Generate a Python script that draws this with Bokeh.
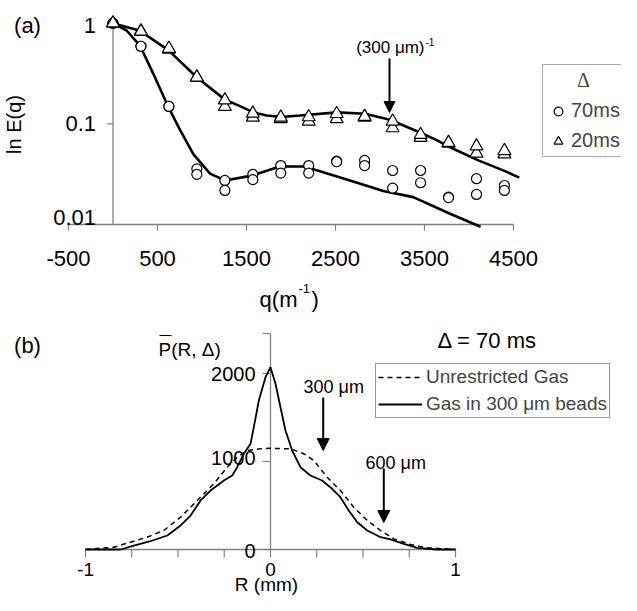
import math
from bokeh.plotting import figure
from bokeh.layouts import column
from bokeh.models import Range1d, Arrow, NormalHead, Legend, LegendItem
from bokeh.core.properties import value
from bokeh.embed import file_html
from bokeh.resources import INLINE

# ---------------- data ----------------
# (a) echo attenuation E(q), two repeated measurements per delay
q_meas = [0, 314, 628, 942, 1257, 1571, 1885, 2199, 2513, 2827, 3142, 3456, 3770, 4084, 4398]
E_70ms_run1 = [1.0, 0.59, 0.149, 0.0357, 0.0274, 0.0315, 0.0385, 0.0385, 0.0426, 0.0433, 0.0344, 0.0344, 0.0187, 0.0285, 0.0244]
E_70ms_run2 = [1.0, 0.59, 0.149, 0.0315, 0.0218, 0.0279, 0.0324, 0.0324, 0.0420, 0.0385, 0.0230, 0.0260, 0.0185, 0.0199, 0.0218]
E_20ms_run1 = [1.0, 0.83, 0.56, 0.29, 0.172, 0.127, 0.116, 0.117, 0.126, 0.118, 0.106, 0.078, 0.065, 0.060, 0.054]
E_20ms_run2 = [1.0, 0.83, 0.55, 0.29, 0.148, 0.116, 0.112, 0.106, 0.112, 0.116, 0.091, 0.073, 0.064, 0.051, 0.050]

# fitted curves
fit_70ms_q = [0, 153, 303, 453, 622, 753, 903, 1090, 1258, 1558, 1876, 2176, 2288, 2663, 3037, 3374, 3787, 4130]
fit_70ms_E = [1.0, 0.846, 0.60, 0.314, 0.147, 0.087, 0.050, 0.032, 0.0274, 0.0306, 0.0377, 0.0377, 0.0345, 0.0274, 0.0215, 0.0187, 0.0128, 0.0095]
fit_20ms_q = [0, 303, 622, 940, 1258, 1427, 1577, 1727, 1895, 2101, 2517, 2831, 3112, 3450, 3637, 3787, 4105, 4404, 4565]
fit_20ms_E = [1.0, 0.84, 0.54, 0.29, 0.174, 0.15, 0.13, 0.121, 0.117, 0.121, 0.13, 0.126, 0.110, 0.082, 0.069, 0.0585, 0.0434, 0.0339, 0.0292]

top_xticks = [-500, 500, 1500, 2500, 3500, 4500]
top_xtick_labels = ["-500", "500", "1500", "2500", "3500", "4500"]
top_yticks = [0.01, 0.1, 1]
top_ytick_labels = ["0.01", "0.1", "1"]

# (b) displacement propagators
R_beads = [-1.0, -0.81, -0.739, -0.649, -0.558, -0.486, -0.432, -0.378, -0.324, -0.252, -0.207, -0.18,
           -0.144, -0.108, -0.09, -0.063, -0.027, 0.0,
           0.027, 0.054, 0.081, 0.117, 0.162, 0.216, 0.279, 0.333, 0.378, 0.423, 0.469, 0.523,
           0.595, 0.649, 0.72, 0.793, 0.9, 1.0]
P_beads = [0, 0, 45, 94, 159, 273, 386, 557, 670, 784, 841, 935,
           1088, 1201, 1390, 1693, 1958, 2072,
           1883, 1617, 1352, 1125, 935, 841, 784, 690, 594, 443, 310, 216,
           140, 114, 65, 19, 0, 0]
R_free = [-1.0, -0.847, -0.757, -0.667, -0.577, -0.486, -0.396, -0.306, -0.234, -0.18, -0.126, -0.054, 0.0,
          0.108, 0.18, 0.234, 0.306, 0.378, 0.45, 0.523, 0.595, 0.667, 0.757, 0.847, 1.0]
P_free = [0, 26, 83, 140, 216, 367, 557, 747, 935, 1049, 1125, 1144, 1150,
          1144, 1088, 1011, 822, 670, 481, 330, 216, 121, 57, 19, 0]

bot_xticks = [-1, -0.75, -0.5, -0.25, 0, 0.25, 0.5, 0.75, 1]
bot_xtick_labels = ["-1", "", "", "", "0", "", "", "", "1"]
bot_yticks = [0, 1000, 2000]
bot_ytick_labels = ["0", "1000", "2000"]

# ---------------- geometry ----------------
W, H1, H2 = 621, 322, 273
DX, DY1, DY2 = 0, 0, 322
FONT = "Liberation Sans"
GRAY = "#808080"


def axis_map(v1, p1, v2, p2, length, flip):
    s = (p2 - p1) / (v2 - v1)
    if not flip:
        lo = v1 - p1 / s
        return lo, lo + length / s, s
    s = -s
    hi = v1 + p1 / s
    return hi - length / s, hi, s


tx0, tx1, tsx = axis_map(-500, 68 - DX, 4500, 513 - DX, W, False)
ty0, ty1, tsy = axis_map(-2, 224 - DY1, 0, 22.7 - DY1, H1, True)
bx0, bx1, bsx = axis_map(-1, 85 - DX, 1, 455 - DX, W, False)
by0, by1, bsy = axis_map(0, 549 - DY2, 2000, 373 - DY2, H2, True)


def top_x(rx):
    return tx0 + (rx - DX) / tsx


def top_y(ry):
    return 10 ** (ty1 - (ry - DY1) / tsy)


def bot_x(rx):
    return bx0 + (rx - DX) / bsx


def bot_y(ry):
    return by1 - (ry - DY2) / bsy


def base_fig(h, xr, yr, ylog=False):
    p = figure(width=W, height=h, x_range=Range1d(*xr), y_range=Range1d(*yr),
               y_axis_type="log" if ylog else "linear",
               x_axis_location=None, y_axis_location=None,
               toolbar_location=None, output_backend="svg", min_border=0, title=None)
    p.grid.visible = False
    p.outline_line_color = None
    p.background_fill_color = "white"
    p.border_fill_color = "white"
    return p


# ---------------- panel (a) ----------------
p1 = base_fig(H1, (tx0, tx1), (10 ** ty0, 10 ** ty1), ylog=True)
ymin, ymax = min(top_yticks), max(top_yticks)
p1.segment(x0=[0, min(top_xticks)], y0=[ymin, ymin], x1=[0, max(top_xticks)], y1=[ymax, ymin],
           line_color=GRAY, line_width=1.3)
n = len(top_xticks)
p1.segment(x0=top_xticks, y0=[ymin] * n, x1=top_xticks, y1=[ymin * 10 ** (-6 / tsy)] * n,
           line_color=GRAY, line_width=1.2)
m = len(top_yticks)
p1.segment(x0=[0] * m, y0=top_yticks, x1=[-6 / tsx] * m, y1=top_yticks, line_color=GRAY, line_width=1.2)
p1.text(x=top_xticks, y=[ymin] * n, text=top_xtick_labels, text_align="center", text_baseline="middle",
        y_offset=34, text_font=value(FONT), text_font_size="22px", text_color="black")
p1.text(x=[0] * m, y=top_yticks, text=top_ytick_labels, text_align="right", text_baseline="middle",
        x_offset=-17, y_offset=[-7, 0, 2], text_font=value(FONT), text_font_size="22px", text_color="black")

p1.line(fit_70ms_q, fit_70ms_E, line_color="black", line_width=2.6)
p1.line(fit_20ms_q, fit_20ms_E, line_color="black", line_width=2.6)
c1 = p1.scatter(q_meas, E_70ms_run1, marker="circle", size=10, fill_color="white", line_color="black", line_width=1.2)
p1.scatter(q_meas, E_70ms_run2, marker="circle", size=10, fill_color="white", line_color="black", line_width=1.2)
t2 = p1.scatter(q_meas, E_20ms_run2, marker="triangle", size=13, fill_color="white", line_color="black", line_width=1.2)
t1 = p1.scatter(q_meas, E_20ms_run1, marker="triangle", size=13, fill_color="white", line_color="black", line_width=1.2)

p1.add_layout(Arrow(end=NormalHead(size=11, fill_color="black", line_color="black"),
                    x_start=top_x(389), y_start=top_y(58), x_end=top_x(389), y_end=top_y(112),
                    line_color="black", line_width=2))
p1.text(x=[top_x(424)], y=[top_y(47)], text=["(300 μm)"], text_align="right", text_baseline="middle",
        text_font=value(FONT), text_font_size="17px", text_color="black")
p1.text(x=[top_x(425)], y=[top_y(41)], text=["-1"], text_align="left", text_baseline="middle",
        text_font=value(FONT), text_font_size="10px", text_color="black")
p1.text(x=[top_x(13)], y=[top_y(124)], text=["ln E(q)"], angle=math.pi / 2, text_align="center",
        text_baseline="middle", text_font=value(FONT), text_font_size="20px", text_color="black")
p1.text(x=[top_x(27)], y=[top_y(25)], text=["(a)"], text_align="center", text_baseline="middle",
        text_font=value(FONT), text_font_size="22px", text_color="black")
p1.text(x=[top_x(297)], y=[top_y(299)], text=["q(m"], text_align="right", text_baseline="middle",
        text_font=value(FONT), text_font_size="22px", text_color="black")
p1.text(x=[top_x(298)], y=[top_y(288)], text=["-1"], text_align="left", text_baseline="middle",
        text_font=value(FONT), text_font_size="13px", text_color="black")
p1.text(x=[top_x(311)], y=[top_y(299)], text=[")"], text_align="left", text_baseline="middle",
        text_font=value(FONT), text_font_size="22px", text_color="black")

leg1 = Legend(items=[LegendItem(label="70ms", renderers=[c1]), LegendItem(label="20ms", renderers=[t1])],
              location=(542 - DX, H1 - (157.3 - DY1)), title="\u00a0" * 6 + "Δ",
              title_text_font="Liberation Serif", title_text_font_size="20px", title_text_font_style="normal",
              label_text_font=FONT, label_text_font_size="20px",
              border_line_color="#555555", border_line_width=1, background_fill_color="white",
              background_fill_alpha=1, padding=4, spacing=7, glyph_width=22, glyph_height=22,
              label_standoff=2, title_standoff=7, margin=0)
p1.add_layout(leg1)

# ---------------- panel (b) ----------------
p2 = base_fig(H2, (bx0, bx1), (by0, by1))
ytop = bot_y(333)
p2.segment(x0=[min(bot_xticks), 0], y0=[0, 0], x1=[max(bot_xticks), 0], y1=[0, ytop],
           line_color=GRAY, line_width=1.3)
k = len(bot_xticks)
p2.segment(x0=bot_xticks, y0=[0] * k, x1=bot_xticks, y1=[-8 / bsy] * k, line_color=GRAY, line_width=1.2)
yt_all = bot_yticks + [ytop]
p2.segment(x0=[0] * len(yt_all), y0=yt_all, x1=[-8 / bsx] * len(yt_all), y1=yt_all,
           line_color=GRAY, line_width=1.2)
p2.text(x=bot_xticks, y=[0] * k, text=bot_xtick_labels, text_align="center", text_baseline="middle",
        y_offset=20, text_font=value(FONT), text_font_size="19px", text_color="black")
p2.text(x=[0] * len(bot_yticks), y=bot_yticks, text=bot_ytick_labels, text_align="right",
        text_baseline="middle", x_offset=-15, y_offset=[1, -4, 0], text_font=value(FONT),
        text_font_size="20px", text_color="black")

lf = p2.line(R_free, P_free, line_color="black", line_width=1.5, line_dash="5 4")
lb = p2.line(R_beads, P_beads, line_color="black", line_width=1.8)

for ax, ys, ye in [(322.7, 397, 450), (383.3, 468, 522)]:
    p2.add_layout(Arrow(end=NormalHead(size=12, fill_color="black", line_color="black"),
                        x_start=bot_x(ax), y_start=bot_y(ys), x_end=bot_x(ax), y_end=bot_y(ye),
                        line_color="black", line_width=2))
p2.text(x=[bot_x(303), bot_x(365)], y=[bot_y(386), bot_y(462)], text=["300 μm", "600 μm"],
        text_align="left", text_baseline="middle", text_font=value(FONT), text_font_size="18px",
        text_color="black")
p2.text(x=[bot_x(437)], y=[bot_y(340)], text=["Δ = 70 ms"], text_align="left", text_baseline="middle",
        text_font=value(FONT), text_font_size="22px", text_color="black")
p2.text(x=[bot_x(27)], y=[bot_y(345)], text=["(b)"], text_align="center", text_baseline="middle",
        text_font=value(FONT), text_font_size="22px", text_color="black")
p2.text(x=[bot_x(158)], y=[bot_y(349)], text=["P(R, Δ)"], text_align="left", text_baseline="middle",
        text_font=value(FONT), text_font_size="19px", text_color="black")
p2.segment(x0=[bot_x(159)], y0=[bot_y(335)], x1=[bot_x(171)], y1=[bot_y(335)], line_color="black",
           line_width=1.2)
p2.text(x=[bot_x(266)], y=[bot_y(584)], text=["R (mm)"], text_align="center", text_baseline="middle",
        text_font=value(FONT), text_font_size="19px", text_color="black")

leg2 = Legend(items=[LegendItem(label="Unrestricted Gas", renderers=[lf]),
                     LegendItem(label="Gas in 300 μm beads", renderers=[lb])],
              location=(375 - DX, H2 - (418.3 - DY2)),
              label_text_font=FONT, label_text_font_size="19px",
              border_line_color="#333333", border_line_width=1, background_fill_color="white",
              background_fill_alpha=1, padding=2, spacing=5, glyph_width=44, glyph_height=18,
              label_standoff=4, margin=0)
p2.add_layout(leg2)

layout = column(p1, p2, spacing=0)
with open("out.html", "w") as f:
    f.write(file_html(layout, INLINE))
